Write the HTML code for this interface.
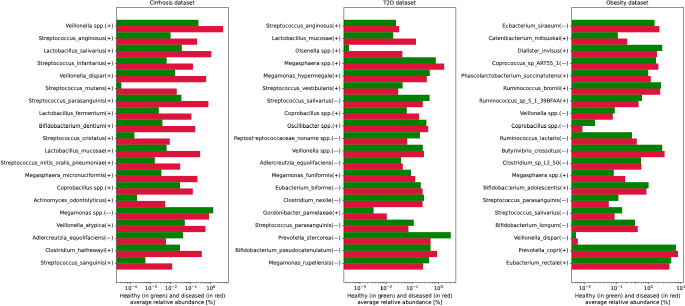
<!DOCTYPE html>
<html><head><meta charset="utf-8"><title>Healthy vs diseased abundance</title>
<style>
html,body{margin:0;padding:0;background:#fff;overflow:hidden;}
#fig{position:relative;width:685px;height:306px;overflow:hidden;background:#fff;}
svg{position:absolute;left:0;top:0;display:block;will-change:transform;transform-origin:0 0;transform:scale(0.5);}
text{font-family:"DejaVu Sans","Liberation Sans",sans-serif;font-size:5.21px;fill:#000;stroke:#000;stroke-width:0.06px;}
.sup{font-size:3.65px;}
.yl{font-size:5.23px;}
.xl{font-size:5.28px;}
.ti{font-size:5.33px;stroke-width:0.1px;}
</style></head>
<body>
<div id="fig">
<svg width="1370" height="612" viewBox="0 0 685 306">
<rect x="0" y="0" width="685" height="306" fill="#ffffff"/>
<g>
<rect x="116.50" y="19.80" width="81.90" height="6.25" fill="#008000"/>
<rect x="116.50" y="26.05" width="106.70" height="6.25" fill="#dc143c"/>
<rect x="116.50" y="32.29" width="54.10" height="6.25" fill="#008000"/>
<rect x="116.50" y="38.53" width="80.50" height="6.25" fill="#dc143c"/>
<rect x="116.50" y="44.78" width="65.30" height="6.25" fill="#008000"/>
<rect x="116.50" y="51.02" width="94.70" height="6.25" fill="#dc143c"/>
<rect x="116.50" y="57.27" width="50.10" height="6.25" fill="#008000"/>
<rect x="116.50" y="63.51" width="76.50" height="6.25" fill="#dc143c"/>
<rect x="116.50" y="69.76" width="58.50" height="6.25" fill="#008000"/>
<rect x="116.50" y="76.01" width="89.70" height="6.25" fill="#dc143c"/>
<rect x="116.50" y="82.25" width="4.90" height="6.25" fill="#008000"/>
<rect x="116.50" y="88.50" width="60.30" height="6.25" fill="#dc143c"/>
<rect x="116.50" y="94.74" width="64.90" height="6.25" fill="#008000"/>
<rect x="116.50" y="100.98" width="91.90" height="6.25" fill="#dc143c"/>
<rect x="116.50" y="107.23" width="42.30" height="6.25" fill="#008000"/>
<rect x="116.50" y="113.48" width="74.90" height="6.25" fill="#dc143c"/>
<rect x="116.50" y="119.72" width="45.90" height="6.25" fill="#008000"/>
<rect x="116.50" y="125.97" width="78.70" height="6.25" fill="#dc143c"/>
<rect x="116.50" y="132.21" width="17.90" height="6.25" fill="#008000"/>
<rect x="116.50" y="138.46" width="53.30" height="6.25" fill="#dc143c"/>
<rect x="116.50" y="144.70" width="50.10" height="6.25" fill="#008000"/>
<rect x="116.50" y="150.95" width="83.70" height="6.25" fill="#dc143c"/>
<rect x="116.50" y="157.19" width="38.30" height="6.25" fill="#008000"/>
<rect x="116.50" y="163.44" width="63.70" height="6.25" fill="#dc143c"/>
<rect x="116.50" y="169.68" width="44.90" height="6.25" fill="#008000"/>
<rect x="116.50" y="175.93" width="80.90" height="6.25" fill="#dc143c"/>
<rect x="116.50" y="182.17" width="63.50" height="6.25" fill="#008000"/>
<rect x="116.50" y="188.42" width="76.30" height="6.25" fill="#dc143c"/>
<rect x="116.50" y="194.66" width="20.50" height="6.25" fill="#008000"/>
<rect x="116.50" y="200.91" width="48.70" height="6.25" fill="#dc143c"/>
<rect x="116.50" y="207.15" width="96.70" height="6.25" fill="#008000"/>
<rect x="116.50" y="213.40" width="92.50" height="6.25" fill="#dc143c"/>
<rect x="116.50" y="219.64" width="68.30" height="6.25" fill="#008000"/>
<rect x="116.50" y="225.89" width="88.90" height="6.25" fill="#dc143c"/>
<rect x="116.50" y="232.13" width="66.50" height="6.25" fill="#008000"/>
<rect x="116.50" y="238.38" width="49.50" height="6.25" fill="#dc143c"/>
<rect x="116.50" y="244.62" width="63.50" height="6.25" fill="#008000"/>
<rect x="116.50" y="250.87" width="85.30" height="6.25" fill="#dc143c"/>
<rect x="116.50" y="257.11" width="28.90" height="6.25" fill="#008000"/>
<rect x="116.50" y="263.36" width="55.70" height="6.25" fill="#dc143c"/>
<line x1="114.68" y1="26.05" x2="116.50" y2="26.05" stroke="#000" stroke-width="0.42"/>
<text class="yl" x="113.25" y="27.35" text-anchor="end">Veillonella spp.(+)</text>
<line x1="114.68" y1="38.53" x2="116.50" y2="38.53" stroke="#000" stroke-width="0.42"/>
<text class="yl" x="113.25" y="39.83" text-anchor="end">Streptococcus_anginosus(+)</text>
<line x1="114.68" y1="51.02" x2="116.50" y2="51.02" stroke="#000" stroke-width="0.42"/>
<text class="yl" x="113.25" y="52.32" text-anchor="end">Lactobacillus_salivarius(+)</text>
<line x1="114.68" y1="63.51" x2="116.50" y2="63.51" stroke="#000" stroke-width="0.42"/>
<text class="yl" x="113.25" y="64.81" text-anchor="end">Streptococcus_infantarius(+)</text>
<line x1="114.68" y1="76.01" x2="116.50" y2="76.01" stroke="#000" stroke-width="0.42"/>
<text class="yl" x="113.25" y="77.31" text-anchor="end">Veillonella_dispar(+)</text>
<line x1="114.68" y1="88.50" x2="116.50" y2="88.50" stroke="#000" stroke-width="0.42"/>
<text class="yl" x="113.25" y="89.80" text-anchor="end">Streptococcus_mutans(+)</text>
<line x1="114.68" y1="100.98" x2="116.50" y2="100.98" stroke="#000" stroke-width="0.42"/>
<text class="yl" x="113.25" y="102.28" text-anchor="end">Streptococcus_parasanguinis(+)</text>
<line x1="114.68" y1="113.48" x2="116.50" y2="113.48" stroke="#000" stroke-width="0.42"/>
<text class="yl" x="113.25" y="114.78" text-anchor="end">Lactobacillus_fermentum(+)</text>
<line x1="114.68" y1="125.97" x2="116.50" y2="125.97" stroke="#000" stroke-width="0.42"/>
<text class="yl" x="113.25" y="127.27" text-anchor="end">Bifidobacterium_dentium(+)</text>
<line x1="114.68" y1="138.46" x2="116.50" y2="138.46" stroke="#000" stroke-width="0.42"/>
<text class="yl" x="113.25" y="139.76" text-anchor="end">Streptococcus_cristatus(+)</text>
<line x1="114.68" y1="150.95" x2="116.50" y2="150.95" stroke="#000" stroke-width="0.42"/>
<text class="yl" x="113.25" y="152.25" text-anchor="end">Lactobacillus_mucosae(+)</text>
<line x1="114.68" y1="163.44" x2="116.50" y2="163.44" stroke="#000" stroke-width="0.42"/>
<text class="yl" x="113.25" y="164.74" text-anchor="end">Streptococcus_mitis_oralis_pneumoniae(+)</text>
<line x1="114.68" y1="175.93" x2="116.50" y2="175.93" stroke="#000" stroke-width="0.42"/>
<text class="yl" x="113.25" y="177.23" text-anchor="end">Megasphaera_micronuciformis(+)</text>
<line x1="114.68" y1="188.42" x2="116.50" y2="188.42" stroke="#000" stroke-width="0.42"/>
<text class="yl" x="113.25" y="189.72" text-anchor="end">Coprobacillus spp.(+)</text>
<line x1="114.68" y1="200.91" x2="116.50" y2="200.91" stroke="#000" stroke-width="0.42"/>
<text class="yl" x="113.25" y="202.21" text-anchor="end">Actinomyces_odontolyticus(+)</text>
<line x1="114.68" y1="213.40" x2="116.50" y2="213.40" stroke="#000" stroke-width="0.42"/>
<text class="yl" x="113.25" y="214.70" text-anchor="end">Megamonas spp.(—)</text>
<line x1="114.68" y1="225.89" x2="116.50" y2="225.89" stroke="#000" stroke-width="0.42"/>
<text class="yl" x="113.25" y="227.19" text-anchor="end">Veillonella_atypica(+)</text>
<line x1="114.68" y1="238.38" x2="116.50" y2="238.38" stroke="#000" stroke-width="0.42"/>
<text class="yl" x="113.25" y="239.68" text-anchor="end">Adlercreutzia_equolifaciens(—)</text>
<line x1="114.68" y1="250.87" x2="116.50" y2="250.87" stroke="#000" stroke-width="0.42"/>
<text class="yl" x="113.25" y="252.17" text-anchor="end">Clostridium_hathewayi(+)</text>
<line x1="114.68" y1="263.36" x2="116.50" y2="263.36" stroke="#000" stroke-width="0.42"/>
<text class="yl" x="113.25" y="264.66" text-anchor="end">Streptococcus_sanguinis(+)</text>
<line x1="130.90" y1="282.40" x2="130.90" y2="284.22" stroke="#000" stroke-width="0.42"/>
<text x="130.90" y="289.90" text-anchor="middle">10<tspan class="sup" dy="-1.9">−4</tspan></text>
<line x1="150.90" y1="282.40" x2="150.90" y2="284.22" stroke="#000" stroke-width="0.42"/>
<text x="150.90" y="289.90" text-anchor="middle">10<tspan class="sup" dy="-1.9">−3</tspan></text>
<line x1="170.90" y1="282.40" x2="170.90" y2="284.22" stroke="#000" stroke-width="0.42"/>
<text x="170.90" y="289.90" text-anchor="middle">10<tspan class="sup" dy="-1.9">−2</tspan></text>
<line x1="190.90" y1="282.40" x2="190.90" y2="284.22" stroke="#000" stroke-width="0.42"/>
<text x="190.90" y="289.90" text-anchor="middle">10<tspan class="sup" dy="-1.9">−1</tspan></text>
<line x1="210.90" y1="282.40" x2="210.90" y2="284.22" stroke="#000" stroke-width="0.42"/>
<text x="210.90" y="289.90" text-anchor="middle">10<tspan class="sup" dy="-1.9">0</tspan></text>
<line x1="116.92" y1="282.40" x2="116.92" y2="283.44" stroke="#000" stroke-width="0.31"/>
<line x1="120.44" y1="282.40" x2="120.44" y2="283.44" stroke="#000" stroke-width="0.31"/>
<line x1="122.94" y1="282.40" x2="122.94" y2="283.44" stroke="#000" stroke-width="0.31"/>
<line x1="124.88" y1="282.40" x2="124.88" y2="283.44" stroke="#000" stroke-width="0.31"/>
<line x1="126.46" y1="282.40" x2="126.46" y2="283.44" stroke="#000" stroke-width="0.31"/>
<line x1="127.80" y1="282.40" x2="127.80" y2="283.44" stroke="#000" stroke-width="0.31"/>
<line x1="128.96" y1="282.40" x2="128.96" y2="283.44" stroke="#000" stroke-width="0.31"/>
<line x1="129.98" y1="282.40" x2="129.98" y2="283.44" stroke="#000" stroke-width="0.31"/>
<line x1="136.92" y1="282.40" x2="136.92" y2="283.44" stroke="#000" stroke-width="0.31"/>
<line x1="140.44" y1="282.40" x2="140.44" y2="283.44" stroke="#000" stroke-width="0.31"/>
<line x1="142.94" y1="282.40" x2="142.94" y2="283.44" stroke="#000" stroke-width="0.31"/>
<line x1="144.88" y1="282.40" x2="144.88" y2="283.44" stroke="#000" stroke-width="0.31"/>
<line x1="146.46" y1="282.40" x2="146.46" y2="283.44" stroke="#000" stroke-width="0.31"/>
<line x1="147.80" y1="282.40" x2="147.80" y2="283.44" stroke="#000" stroke-width="0.31"/>
<line x1="148.96" y1="282.40" x2="148.96" y2="283.44" stroke="#000" stroke-width="0.31"/>
<line x1="149.98" y1="282.40" x2="149.98" y2="283.44" stroke="#000" stroke-width="0.31"/>
<line x1="156.92" y1="282.40" x2="156.92" y2="283.44" stroke="#000" stroke-width="0.31"/>
<line x1="160.44" y1="282.40" x2="160.44" y2="283.44" stroke="#000" stroke-width="0.31"/>
<line x1="162.94" y1="282.40" x2="162.94" y2="283.44" stroke="#000" stroke-width="0.31"/>
<line x1="164.88" y1="282.40" x2="164.88" y2="283.44" stroke="#000" stroke-width="0.31"/>
<line x1="166.46" y1="282.40" x2="166.46" y2="283.44" stroke="#000" stroke-width="0.31"/>
<line x1="167.80" y1="282.40" x2="167.80" y2="283.44" stroke="#000" stroke-width="0.31"/>
<line x1="168.96" y1="282.40" x2="168.96" y2="283.44" stroke="#000" stroke-width="0.31"/>
<line x1="169.98" y1="282.40" x2="169.98" y2="283.44" stroke="#000" stroke-width="0.31"/>
<line x1="176.92" y1="282.40" x2="176.92" y2="283.44" stroke="#000" stroke-width="0.31"/>
<line x1="180.44" y1="282.40" x2="180.44" y2="283.44" stroke="#000" stroke-width="0.31"/>
<line x1="182.94" y1="282.40" x2="182.94" y2="283.44" stroke="#000" stroke-width="0.31"/>
<line x1="184.88" y1="282.40" x2="184.88" y2="283.44" stroke="#000" stroke-width="0.31"/>
<line x1="186.46" y1="282.40" x2="186.46" y2="283.44" stroke="#000" stroke-width="0.31"/>
<line x1="187.80" y1="282.40" x2="187.80" y2="283.44" stroke="#000" stroke-width="0.31"/>
<line x1="188.96" y1="282.40" x2="188.96" y2="283.44" stroke="#000" stroke-width="0.31"/>
<line x1="189.98" y1="282.40" x2="189.98" y2="283.44" stroke="#000" stroke-width="0.31"/>
<line x1="196.92" y1="282.40" x2="196.92" y2="283.44" stroke="#000" stroke-width="0.31"/>
<line x1="200.44" y1="282.40" x2="200.44" y2="283.44" stroke="#000" stroke-width="0.31"/>
<line x1="202.94" y1="282.40" x2="202.94" y2="283.44" stroke="#000" stroke-width="0.31"/>
<line x1="204.88" y1="282.40" x2="204.88" y2="283.44" stroke="#000" stroke-width="0.31"/>
<line x1="206.46" y1="282.40" x2="206.46" y2="283.44" stroke="#000" stroke-width="0.31"/>
<line x1="207.80" y1="282.40" x2="207.80" y2="283.44" stroke="#000" stroke-width="0.31"/>
<line x1="208.96" y1="282.40" x2="208.96" y2="283.44" stroke="#000" stroke-width="0.31"/>
<line x1="209.98" y1="282.40" x2="209.98" y2="283.44" stroke="#000" stroke-width="0.31"/>
<line x1="216.92" y1="282.40" x2="216.92" y2="283.44" stroke="#000" stroke-width="0.31"/>
<line x1="220.44" y1="282.40" x2="220.44" y2="283.44" stroke="#000" stroke-width="0.31"/>
<line x1="222.94" y1="282.40" x2="222.94" y2="283.44" stroke="#000" stroke-width="0.31"/>
<line x1="224.88" y1="282.40" x2="224.88" y2="283.44" stroke="#000" stroke-width="0.31"/>
<line x1="226.46" y1="282.40" x2="226.46" y2="283.44" stroke="#000" stroke-width="0.31"/>
<line x1="227.80" y1="282.40" x2="227.80" y2="283.44" stroke="#000" stroke-width="0.31"/>
<rect x="116.50" y="7.45" width="112.00" height="274.95" fill="none" stroke="#000" stroke-width="0.42"/>
<text class="ti" x="172.10" y="4.70" text-anchor="middle">Cirrhosis dataset</text>
<text class="xl" x="172.50" y="297.60" text-anchor="middle">Healthy (in green) and diseased (in red)</text>
<text class="xl" x="172.50" y="303.85" text-anchor="middle">average relative abundance [%]</text>
</g>
<g>
<rect x="343.90" y="19.80" width="52.10" height="6.25" fill="#008000"/>
<rect x="343.90" y="26.05" width="55.30" height="6.25" fill="#dc143c"/>
<rect x="343.90" y="32.29" width="49.30" height="6.25" fill="#008000"/>
<rect x="343.90" y="38.53" width="72.10" height="6.25" fill="#dc143c"/>
<rect x="343.90" y="44.78" width="5.10" height="6.25" fill="#008000"/>
<rect x="343.90" y="51.02" width="58.50" height="6.25" fill="#dc143c"/>
<rect x="343.90" y="57.27" width="91.90" height="6.25" fill="#008000"/>
<rect x="343.90" y="63.51" width="100.30" height="6.25" fill="#dc143c"/>
<rect x="343.90" y="69.76" width="85.90" height="6.25" fill="#008000"/>
<rect x="343.90" y="76.01" width="82.90" height="6.25" fill="#dc143c"/>
<rect x="343.90" y="82.25" width="58.70" height="6.25" fill="#008000"/>
<rect x="343.90" y="88.50" width="54.30" height="6.25" fill="#dc143c"/>
<rect x="343.90" y="94.74" width="85.70" height="6.25" fill="#008000"/>
<rect x="343.90" y="100.98" width="78.90" height="6.25" fill="#dc143c"/>
<rect x="343.90" y="107.23" width="62.90" height="6.25" fill="#008000"/>
<rect x="343.90" y="113.48" width="75.10" height="6.25" fill="#dc143c"/>
<rect x="343.90" y="119.72" width="82.50" height="6.25" fill="#008000"/>
<rect x="343.90" y="125.97" width="84.30" height="6.25" fill="#dc143c"/>
<rect x="343.90" y="132.21" width="76.10" height="6.25" fill="#008000"/>
<rect x="343.90" y="138.46" width="63.30" height="6.25" fill="#dc143c"/>
<rect x="343.90" y="144.70" width="78.90" height="6.25" fill="#008000"/>
<rect x="343.90" y="150.95" width="80.10" height="6.25" fill="#dc143c"/>
<rect x="343.90" y="157.19" width="57.10" height="6.25" fill="#008000"/>
<rect x="343.90" y="163.44" width="58.90" height="6.25" fill="#dc143c"/>
<rect x="343.90" y="169.68" width="67.10" height="6.25" fill="#008000"/>
<rect x="343.90" y="175.93" width="71.30" height="6.25" fill="#dc143c"/>
<rect x="343.90" y="182.17" width="76.90" height="6.25" fill="#008000"/>
<rect x="343.90" y="188.42" width="78.70" height="6.25" fill="#dc143c"/>
<rect x="343.90" y="194.66" width="80.10" height="6.25" fill="#008000"/>
<rect x="343.90" y="200.91" width="78.70" height="6.25" fill="#dc143c"/>
<rect x="343.90" y="207.15" width="29.70" height="6.25" fill="#008000"/>
<rect x="343.90" y="213.40" width="42.90" height="6.25" fill="#dc143c"/>
<rect x="343.90" y="219.64" width="69.90" height="6.25" fill="#008000"/>
<rect x="343.90" y="225.89" width="64.50" height="6.25" fill="#dc143c"/>
<rect x="343.90" y="232.13" width="106.90" height="6.25" fill="#008000"/>
<rect x="343.90" y="238.38" width="86.70" height="6.25" fill="#dc143c"/>
<rect x="343.90" y="244.62" width="86.70" height="6.25" fill="#008000"/>
<rect x="343.90" y="250.87" width="93.10" height="6.25" fill="#dc143c"/>
<rect x="343.90" y="257.11" width="85.10" height="6.25" fill="#008000"/>
<rect x="343.90" y="263.36" width="79.10" height="6.25" fill="#dc143c"/>
<line x1="342.08" y1="26.05" x2="343.90" y2="26.05" stroke="#000" stroke-width="0.42"/>
<text class="yl" x="340.65" y="27.35" text-anchor="end">Streptococcus_anginosus(+)</text>
<line x1="342.08" y1="38.53" x2="343.90" y2="38.53" stroke="#000" stroke-width="0.42"/>
<text class="yl" x="340.65" y="39.83" text-anchor="end">Lactobacillus_mucosae(+)</text>
<line x1="342.08" y1="51.02" x2="343.90" y2="51.02" stroke="#000" stroke-width="0.42"/>
<text class="yl" x="340.65" y="52.32" text-anchor="end">Olsenella spp.(+)</text>
<line x1="342.08" y1="63.51" x2="343.90" y2="63.51" stroke="#000" stroke-width="0.42"/>
<text class="yl" x="340.65" y="64.81" text-anchor="end">Megasphaera spp.(+)</text>
<line x1="342.08" y1="76.01" x2="343.90" y2="76.01" stroke="#000" stroke-width="0.42"/>
<text class="yl" x="340.65" y="77.31" text-anchor="end">Megamonas_hypermegale(+)</text>
<line x1="342.08" y1="88.50" x2="343.90" y2="88.50" stroke="#000" stroke-width="0.42"/>
<text class="yl" x="340.65" y="89.80" text-anchor="end">Streptococcus_vestibularis(+)</text>
<line x1="342.08" y1="100.98" x2="343.90" y2="100.98" stroke="#000" stroke-width="0.42"/>
<text class="yl" x="340.65" y="102.28" text-anchor="end">Streptococcus_salivarius(—)</text>
<line x1="342.08" y1="113.48" x2="343.90" y2="113.48" stroke="#000" stroke-width="0.42"/>
<text class="yl" x="340.65" y="114.78" text-anchor="end">Coprobacillus spp.(+)</text>
<line x1="342.08" y1="125.97" x2="343.90" y2="125.97" stroke="#000" stroke-width="0.42"/>
<text class="yl" x="340.65" y="127.27" text-anchor="end">Oscillibacter spp.(+)</text>
<line x1="342.08" y1="138.46" x2="343.90" y2="138.46" stroke="#000" stroke-width="0.42"/>
<text class="yl" x="340.65" y="139.76" text-anchor="end">Peptostreptococcaceae_noname spp.(—)</text>
<line x1="342.08" y1="150.95" x2="343.90" y2="150.95" stroke="#000" stroke-width="0.42"/>
<text class="yl" x="340.65" y="152.25" text-anchor="end">Veillonella spp.(—)</text>
<line x1="342.08" y1="163.44" x2="343.90" y2="163.44" stroke="#000" stroke-width="0.42"/>
<text class="yl" x="340.65" y="164.74" text-anchor="end">Adlercreutzia_equolifaciens(—)</text>
<line x1="342.08" y1="175.93" x2="343.90" y2="175.93" stroke="#000" stroke-width="0.42"/>
<text class="yl" x="340.65" y="177.23" text-anchor="end">Megamonas_funiformis(+)</text>
<line x1="342.08" y1="188.42" x2="343.90" y2="188.42" stroke="#000" stroke-width="0.42"/>
<text class="yl" x="340.65" y="189.72" text-anchor="end">Eubacterium_biforme(—)</text>
<line x1="342.08" y1="200.91" x2="343.90" y2="200.91" stroke="#000" stroke-width="0.42"/>
<text class="yl" x="340.65" y="202.21" text-anchor="end">Clostridium_nexile(—)</text>
<line x1="342.08" y1="213.40" x2="343.90" y2="213.40" stroke="#000" stroke-width="0.42"/>
<text class="yl" x="340.65" y="214.70" text-anchor="end">Gordonibacter_pamelaeae(+)</text>
<line x1="342.08" y1="225.89" x2="343.90" y2="225.89" stroke="#000" stroke-width="0.42"/>
<text class="yl" x="340.65" y="227.19" text-anchor="end">Streptococcus_parasanguinis(—)</text>
<line x1="342.08" y1="238.38" x2="343.90" y2="238.38" stroke="#000" stroke-width="0.42"/>
<text class="yl" x="340.65" y="239.68" text-anchor="end">Prevotella_stercorea(—)</text>
<line x1="342.08" y1="250.87" x2="343.90" y2="250.87" stroke="#000" stroke-width="0.42"/>
<text class="yl" x="340.65" y="252.17" text-anchor="end">Bifidobacterium_pseudocatenulatum(—)</text>
<line x1="342.08" y1="263.36" x2="343.90" y2="263.36" stroke="#000" stroke-width="0.42"/>
<text class="yl" x="340.65" y="264.66" text-anchor="end">Megamonas_rupellensis(—)</text>
<line x1="360.00" y1="282.40" x2="360.00" y2="284.22" stroke="#000" stroke-width="0.42"/>
<text x="360.00" y="289.90" text-anchor="middle">10<tspan class="sup" dy="-1.9">−3</tspan></text>
<line x1="386.10" y1="282.40" x2="386.10" y2="284.22" stroke="#000" stroke-width="0.42"/>
<text x="386.10" y="289.90" text-anchor="middle">10<tspan class="sup" dy="-1.9">−2</tspan></text>
<line x1="412.20" y1="282.40" x2="412.20" y2="284.22" stroke="#000" stroke-width="0.42"/>
<text x="412.20" y="289.90" text-anchor="middle">10<tspan class="sup" dy="-1.9">−1</tspan></text>
<line x1="438.30" y1="282.40" x2="438.30" y2="284.22" stroke="#000" stroke-width="0.42"/>
<text x="438.30" y="289.90" text-anchor="middle">10<tspan class="sup" dy="-1.9">0</tspan></text>
<line x1="346.35" y1="282.40" x2="346.35" y2="283.44" stroke="#000" stroke-width="0.31"/>
<line x1="349.61" y1="282.40" x2="349.61" y2="283.44" stroke="#000" stroke-width="0.31"/>
<line x1="352.14" y1="282.40" x2="352.14" y2="283.44" stroke="#000" stroke-width="0.31"/>
<line x1="354.21" y1="282.40" x2="354.21" y2="283.44" stroke="#000" stroke-width="0.31"/>
<line x1="355.96" y1="282.40" x2="355.96" y2="283.44" stroke="#000" stroke-width="0.31"/>
<line x1="357.47" y1="282.40" x2="357.47" y2="283.44" stroke="#000" stroke-width="0.31"/>
<line x1="358.81" y1="282.40" x2="358.81" y2="283.44" stroke="#000" stroke-width="0.31"/>
<line x1="367.86" y1="282.40" x2="367.86" y2="283.44" stroke="#000" stroke-width="0.31"/>
<line x1="372.45" y1="282.40" x2="372.45" y2="283.44" stroke="#000" stroke-width="0.31"/>
<line x1="375.71" y1="282.40" x2="375.71" y2="283.44" stroke="#000" stroke-width="0.31"/>
<line x1="378.24" y1="282.40" x2="378.24" y2="283.44" stroke="#000" stroke-width="0.31"/>
<line x1="380.31" y1="282.40" x2="380.31" y2="283.44" stroke="#000" stroke-width="0.31"/>
<line x1="382.06" y1="282.40" x2="382.06" y2="283.44" stroke="#000" stroke-width="0.31"/>
<line x1="383.57" y1="282.40" x2="383.57" y2="283.44" stroke="#000" stroke-width="0.31"/>
<line x1="384.91" y1="282.40" x2="384.91" y2="283.44" stroke="#000" stroke-width="0.31"/>
<line x1="393.96" y1="282.40" x2="393.96" y2="283.44" stroke="#000" stroke-width="0.31"/>
<line x1="398.55" y1="282.40" x2="398.55" y2="283.44" stroke="#000" stroke-width="0.31"/>
<line x1="401.81" y1="282.40" x2="401.81" y2="283.44" stroke="#000" stroke-width="0.31"/>
<line x1="404.34" y1="282.40" x2="404.34" y2="283.44" stroke="#000" stroke-width="0.31"/>
<line x1="406.41" y1="282.40" x2="406.41" y2="283.44" stroke="#000" stroke-width="0.31"/>
<line x1="408.16" y1="282.40" x2="408.16" y2="283.44" stroke="#000" stroke-width="0.31"/>
<line x1="409.67" y1="282.40" x2="409.67" y2="283.44" stroke="#000" stroke-width="0.31"/>
<line x1="411.01" y1="282.40" x2="411.01" y2="283.44" stroke="#000" stroke-width="0.31"/>
<line x1="420.06" y1="282.40" x2="420.06" y2="283.44" stroke="#000" stroke-width="0.31"/>
<line x1="424.65" y1="282.40" x2="424.65" y2="283.44" stroke="#000" stroke-width="0.31"/>
<line x1="427.91" y1="282.40" x2="427.91" y2="283.44" stroke="#000" stroke-width="0.31"/>
<line x1="430.44" y1="282.40" x2="430.44" y2="283.44" stroke="#000" stroke-width="0.31"/>
<line x1="432.51" y1="282.40" x2="432.51" y2="283.44" stroke="#000" stroke-width="0.31"/>
<line x1="434.26" y1="282.40" x2="434.26" y2="283.44" stroke="#000" stroke-width="0.31"/>
<line x1="435.77" y1="282.40" x2="435.77" y2="283.44" stroke="#000" stroke-width="0.31"/>
<line x1="437.11" y1="282.40" x2="437.11" y2="283.44" stroke="#000" stroke-width="0.31"/>
<line x1="446.16" y1="282.40" x2="446.16" y2="283.44" stroke="#000" stroke-width="0.31"/>
<line x1="450.75" y1="282.40" x2="450.75" y2="283.44" stroke="#000" stroke-width="0.31"/>
<line x1="454.01" y1="282.40" x2="454.01" y2="283.44" stroke="#000" stroke-width="0.31"/>
<rect x="343.90" y="7.45" width="112.00" height="274.95" fill="none" stroke="#000" stroke-width="0.42"/>
<text class="ti" x="399.50" y="4.70" text-anchor="middle">T2D dataset</text>
<text class="xl" x="399.90" y="297.60" text-anchor="middle">Healthy (in green) and diseased (in red)</text>
<text class="xl" x="399.90" y="303.85" text-anchor="middle">average relative abundance [%]</text>
</g>
<g>
<rect x="571.70" y="19.80" width="82.90" height="6.25" fill="#008000"/>
<rect x="571.70" y="26.05" width="87.70" height="6.25" fill="#dc143c"/>
<rect x="571.70" y="32.29" width="46.10" height="6.25" fill="#008000"/>
<rect x="571.70" y="38.53" width="55.50" height="6.25" fill="#dc143c"/>
<rect x="571.70" y="44.78" width="90.50" height="6.25" fill="#008000"/>
<rect x="571.70" y="51.02" width="85.30" height="6.25" fill="#dc143c"/>
<rect x="571.70" y="57.27" width="84.30" height="6.25" fill="#008000"/>
<rect x="571.70" y="63.51" width="86.70" height="6.25" fill="#dc143c"/>
<rect x="571.70" y="69.76" width="76.50" height="6.25" fill="#008000"/>
<rect x="571.70" y="76.01" width="79.10" height="6.25" fill="#dc143c"/>
<rect x="571.70" y="82.25" width="89.30" height="6.25" fill="#008000"/>
<rect x="571.70" y="88.50" width="88.50" height="6.25" fill="#dc143c"/>
<rect x="571.70" y="94.74" width="70.30" height="6.25" fill="#008000"/>
<rect x="571.70" y="100.98" width="66.90" height="6.25" fill="#dc143c"/>
<rect x="571.70" y="107.23" width="43.10" height="6.25" fill="#008000"/>
<rect x="571.70" y="113.48" width="41.10" height="6.25" fill="#dc143c"/>
<rect x="571.70" y="119.72" width="23.30" height="6.25" fill="#008000"/>
<rect x="571.70" y="125.97" width="10.70" height="6.25" fill="#dc143c"/>
<rect x="571.70" y="132.21" width="60.30" height="6.25" fill="#008000"/>
<rect x="571.70" y="138.46" width="65.10" height="6.25" fill="#dc143c"/>
<rect x="571.70" y="144.70" width="90.50" height="6.25" fill="#008000"/>
<rect x="571.70" y="150.95" width="92.90" height="6.25" fill="#dc143c"/>
<rect x="571.70" y="157.19" width="69.30" height="6.25" fill="#008000"/>
<rect x="571.70" y="163.44" width="69.70" height="6.25" fill="#dc143c"/>
<rect x="571.70" y="169.68" width="42.10" height="6.25" fill="#008000"/>
<rect x="571.70" y="175.93" width="53.50" height="6.25" fill="#dc143c"/>
<rect x="571.70" y="182.17" width="76.90" height="6.25" fill="#008000"/>
<rect x="571.70" y="188.42" width="74.70" height="6.25" fill="#dc143c"/>
<rect x="571.70" y="194.66" width="46.70" height="6.25" fill="#008000"/>
<rect x="571.70" y="200.91" width="37.10" height="6.25" fill="#dc143c"/>
<rect x="571.70" y="207.15" width="50.50" height="6.25" fill="#008000"/>
<rect x="571.70" y="213.40" width="42.90" height="6.25" fill="#dc143c"/>
<rect x="571.70" y="219.64" width="63.30" height="6.25" fill="#008000"/>
<rect x="571.70" y="225.89" width="66.10" height="6.25" fill="#dc143c"/>
<rect x="571.70" y="232.13" width="4.30" height="6.25" fill="#008000"/>
<rect x="571.70" y="238.38" width="6.10" height="6.25" fill="#dc143c"/>
<rect x="571.70" y="244.62" width="104.30" height="6.25" fill="#008000"/>
<rect x="571.70" y="250.87" width="106.30" height="6.25" fill="#dc143c"/>
<rect x="571.70" y="257.11" width="99.50" height="6.25" fill="#008000"/>
<rect x="571.70" y="263.36" width="97.70" height="6.25" fill="#dc143c"/>
<line x1="569.88" y1="26.05" x2="571.70" y2="26.05" stroke="#000" stroke-width="0.42"/>
<text class="yl" x="568.45" y="27.35" text-anchor="end">Eubacterium_siraeum(—)</text>
<line x1="569.88" y1="38.53" x2="571.70" y2="38.53" stroke="#000" stroke-width="0.42"/>
<text class="yl" x="568.45" y="39.83" text-anchor="end">Catenibacterium_mitsuokai(+)</text>
<line x1="569.88" y1="51.02" x2="571.70" y2="51.02" stroke="#000" stroke-width="0.42"/>
<text class="yl" x="568.45" y="52.32" text-anchor="end">Dialister_invisus(+)</text>
<line x1="569.88" y1="63.51" x2="571.70" y2="63.51" stroke="#000" stroke-width="0.42"/>
<text class="yl" x="568.45" y="64.81" text-anchor="end">Coprococcus_sp_ART55_1(—)</text>
<line x1="569.88" y1="76.01" x2="571.70" y2="76.01" stroke="#000" stroke-width="0.42"/>
<text class="yl" x="568.45" y="77.31" text-anchor="end">Phascolarctobacterium_succinatutens(+)</text>
<line x1="569.88" y1="88.50" x2="571.70" y2="88.50" stroke="#000" stroke-width="0.42"/>
<text class="yl" x="568.45" y="89.80" text-anchor="end">Ruminococcus_bromii(+)</text>
<line x1="569.88" y1="100.98" x2="571.70" y2="100.98" stroke="#000" stroke-width="0.42"/>
<text class="yl" x="568.45" y="102.28" text-anchor="end">Ruminococcus_sp_5_1_39BFAA(+)</text>
<line x1="569.88" y1="113.48" x2="571.70" y2="113.48" stroke="#000" stroke-width="0.42"/>
<text class="yl" x="568.45" y="114.78" text-anchor="end">Veillonella spp.(—)</text>
<line x1="569.88" y1="125.97" x2="571.70" y2="125.97" stroke="#000" stroke-width="0.42"/>
<text class="yl" x="568.45" y="127.27" text-anchor="end">Coprobacillus spp.(—)</text>
<line x1="569.88" y1="138.46" x2="571.70" y2="138.46" stroke="#000" stroke-width="0.42"/>
<text class="yl" x="568.45" y="139.76" text-anchor="end">Ruminococcus_lactaris(—)</text>
<line x1="569.88" y1="150.95" x2="571.70" y2="150.95" stroke="#000" stroke-width="0.42"/>
<text class="yl" x="568.45" y="152.25" text-anchor="end">Butyrivibrio_crossotus(—)</text>
<line x1="569.88" y1="163.44" x2="571.70" y2="163.44" stroke="#000" stroke-width="0.42"/>
<text class="yl" x="568.45" y="164.74" text-anchor="end">Clostridium_sp_L2_50(—)</text>
<line x1="569.88" y1="175.93" x2="571.70" y2="175.93" stroke="#000" stroke-width="0.42"/>
<text class="yl" x="568.45" y="177.23" text-anchor="end">Megasphaera spp.(+)</text>
<line x1="569.88" y1="188.42" x2="571.70" y2="188.42" stroke="#000" stroke-width="0.42"/>
<text class="yl" x="568.45" y="189.72" text-anchor="end">Bifidobacterium_adolescentis(+)</text>
<line x1="569.88" y1="200.91" x2="571.70" y2="200.91" stroke="#000" stroke-width="0.42"/>
<text class="yl" x="568.45" y="202.21" text-anchor="end">Streptococcus_parasanguinis(—)</text>
<line x1="569.88" y1="213.40" x2="571.70" y2="213.40" stroke="#000" stroke-width="0.42"/>
<text class="yl" x="568.45" y="214.70" text-anchor="end">Streptococcus_salivarius(—)</text>
<line x1="569.88" y1="225.89" x2="571.70" y2="225.89" stroke="#000" stroke-width="0.42"/>
<text class="yl" x="568.45" y="227.19" text-anchor="end">Bifidobacterium_longum(—)</text>
<line x1="569.88" y1="238.38" x2="571.70" y2="238.38" stroke="#000" stroke-width="0.42"/>
<text class="yl" x="568.45" y="239.68" text-anchor="end">Veillonella_dispar(—)</text>
<line x1="569.88" y1="250.87" x2="571.70" y2="250.87" stroke="#000" stroke-width="0.42"/>
<text class="yl" x="568.45" y="252.17" text-anchor="end">Prevotella_copri(+)</text>
<line x1="569.88" y1="263.36" x2="571.70" y2="263.36" stroke="#000" stroke-width="0.42"/>
<text class="yl" x="568.45" y="264.66" text-anchor="end">Eubacterium_rectale(+)</text>
<line x1="584.80" y1="282.40" x2="584.80" y2="284.22" stroke="#000" stroke-width="0.42"/>
<text x="584.80" y="289.90" text-anchor="middle">10<tspan class="sup" dy="-1.9">−2</tspan></text>
<line x1="616.60" y1="282.40" x2="616.60" y2="284.22" stroke="#000" stroke-width="0.42"/>
<text x="616.60" y="289.90" text-anchor="middle">10<tspan class="sup" dy="-1.9">−1</tspan></text>
<line x1="648.40" y1="282.40" x2="648.40" y2="284.22" stroke="#000" stroke-width="0.42"/>
<text x="648.40" y="289.90" text-anchor="middle">10<tspan class="sup" dy="-1.9">0</tspan></text>
<line x1="680.80" y1="282.40" x2="680.80" y2="284.22" stroke="#000" stroke-width="0.42"/>
<text x="680.80" y="289.90" text-anchor="middle">10<tspan class="sup" dy="-1.9">1</tspan></text>
<line x1="572.15" y1="282.40" x2="572.15" y2="283.44" stroke="#000" stroke-width="0.31"/>
<line x1="575.23" y1="282.40" x2="575.23" y2="283.44" stroke="#000" stroke-width="0.31"/>
<line x1="577.75" y1="282.40" x2="577.75" y2="283.44" stroke="#000" stroke-width="0.31"/>
<line x1="579.87" y1="282.40" x2="579.87" y2="283.44" stroke="#000" stroke-width="0.31"/>
<line x1="581.72" y1="282.40" x2="581.72" y2="283.44" stroke="#000" stroke-width="0.31"/>
<line x1="583.34" y1="282.40" x2="583.34" y2="283.44" stroke="#000" stroke-width="0.31"/>
<line x1="594.37" y1="282.40" x2="594.37" y2="283.44" stroke="#000" stroke-width="0.31"/>
<line x1="599.97" y1="282.40" x2="599.97" y2="283.44" stroke="#000" stroke-width="0.31"/>
<line x1="603.95" y1="282.40" x2="603.95" y2="283.44" stroke="#000" stroke-width="0.31"/>
<line x1="607.03" y1="282.40" x2="607.03" y2="283.44" stroke="#000" stroke-width="0.31"/>
<line x1="609.55" y1="282.40" x2="609.55" y2="283.44" stroke="#000" stroke-width="0.31"/>
<line x1="611.67" y1="282.40" x2="611.67" y2="283.44" stroke="#000" stroke-width="0.31"/>
<line x1="613.52" y1="282.40" x2="613.52" y2="283.44" stroke="#000" stroke-width="0.31"/>
<line x1="615.14" y1="282.40" x2="615.14" y2="283.44" stroke="#000" stroke-width="0.31"/>
<line x1="626.17" y1="282.40" x2="626.17" y2="283.44" stroke="#000" stroke-width="0.31"/>
<line x1="631.77" y1="282.40" x2="631.77" y2="283.44" stroke="#000" stroke-width="0.31"/>
<line x1="635.75" y1="282.40" x2="635.75" y2="283.44" stroke="#000" stroke-width="0.31"/>
<line x1="638.83" y1="282.40" x2="638.83" y2="283.44" stroke="#000" stroke-width="0.31"/>
<line x1="641.35" y1="282.40" x2="641.35" y2="283.44" stroke="#000" stroke-width="0.31"/>
<line x1="643.47" y1="282.40" x2="643.47" y2="283.44" stroke="#000" stroke-width="0.31"/>
<line x1="645.32" y1="282.40" x2="645.32" y2="283.44" stroke="#000" stroke-width="0.31"/>
<line x1="646.94" y1="282.40" x2="646.94" y2="283.44" stroke="#000" stroke-width="0.31"/>
<line x1="657.97" y1="282.40" x2="657.97" y2="283.44" stroke="#000" stroke-width="0.31"/>
<line x1="663.57" y1="282.40" x2="663.57" y2="283.44" stroke="#000" stroke-width="0.31"/>
<line x1="667.55" y1="282.40" x2="667.55" y2="283.44" stroke="#000" stroke-width="0.31"/>
<line x1="670.63" y1="282.40" x2="670.63" y2="283.44" stroke="#000" stroke-width="0.31"/>
<line x1="673.15" y1="282.40" x2="673.15" y2="283.44" stroke="#000" stroke-width="0.31"/>
<line x1="675.27" y1="282.40" x2="675.27" y2="283.44" stroke="#000" stroke-width="0.31"/>
<line x1="677.12" y1="282.40" x2="677.12" y2="283.44" stroke="#000" stroke-width="0.31"/>
<line x1="678.74" y1="282.40" x2="678.74" y2="283.44" stroke="#000" stroke-width="0.31"/>
<rect x="571.70" y="7.45" width="112.00" height="274.95" fill="none" stroke="#000" stroke-width="0.42"/>
<text class="ti" x="627.30" y="4.70" text-anchor="middle">Obesity dataset</text>
<text class="xl" x="627.70" y="297.60" text-anchor="middle">Healthy (in green) and diseased (in red)</text>
<text class="xl" x="627.70" y="303.85" text-anchor="middle">average relative abundance [%]</text>
</g>
</svg>
</div>
</body></html>
